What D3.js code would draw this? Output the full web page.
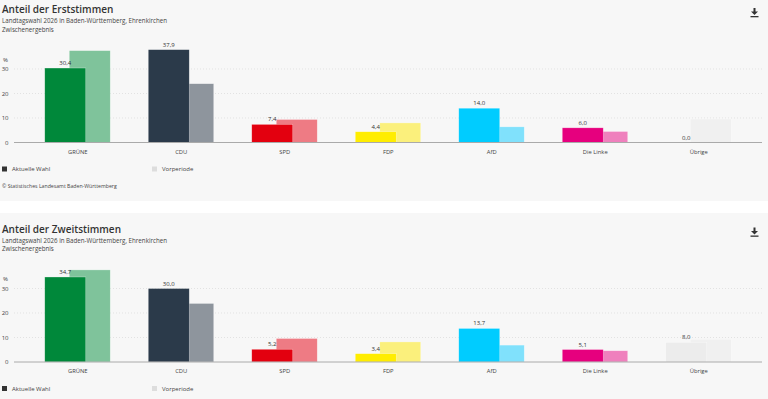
<!DOCTYPE html>
<html>
<head>
<meta charset="utf-8">
<script src="https://cdn.jsdelivr.net/npm/d3@7"></script>
<style>
  body { margin: 0; background: #fff; }
  svg { display: block; font-family: "Open Sans", sans-serif; }
</style>
</head>
<body>
<div id="chart"></div>
<script>
// Parteien und Ergebnisse
const parteien = ['GRÜNE', 'CDU', 'SPD', 'FDP', 'AfD', 'Die Linke', 'Übrige'];
const erstAktuell = [30.4, 37.9, 7.4, 4.4, 14.0, 6.0, 0.0];
const erstVorher = [37.5, 24.0, 9.4, 8.0, 6.4, 4.5, 9.6];
const zweitAktuell = [34.7, 30.0, 5.2, 3.4, 13.7, 5.1, 8.0];
const zweitVorher = [37.6, 23.9, 9.6, 8.2, 6.9, 4.6, 9.3];
const yTicks = [0, 10, 20, 30];

const farbeAktuell = ['#00883a', '#2b3a4a', '#e3000f', '#ffed00', '#00ccff', '#e6007e', '#ececec'];
const farbeVorher = ['#7fc39b', '#8e959d', '#ee7b84', '#fbf07c', '#80e1fc', '#ef80bd', '#f0f0f0'];

const width = 768, height = 399;
const svg = d3.select('#chart').append('svg')
  .attr('width', width).attr('height', height);

// Hintergründe der beiden Kacheln
svg.append('rect').attr('x', 0).attr('y', 0).attr('width', width).attr('height', 201).attr('fill', '#f7f7f7');
svg.append('rect').attr('x', 0).attr('y', 213).attr('width', width).attr('height', 186).attr('fill', '#f7f7f7');

const x = d3.scaleBand().domain(parteien).range([26, 750.5]);
const y = d3.scaleLinear().domain([0, 40]).range([142.5, 44.5]);
const fmt = v => d3.format('.1f')(v).replace('.', ',');

function panel(top, titel, aktuell, vorher, mitQuelle) {
  const g = svg.append('g').attr('transform', `translate(0,${top})`);

  g.append('text').attr('x', 2).attr('y', 13)
    .attr('font-size', 10).attr('font-weight', 600).attr('fill', '#333')
    .text(titel);
  g.append('text').attr('x', 2).attr('y', 23)
    .attr('font-size', 6.2).attr('fill', '#444')
    .text('Landtagswahl 2026 in Baden-Württemberg, Ehrenkirchen');
  g.append('text').attr('x', 2).attr('y', 31.5)
    .attr('font-size', 6.2).attr('fill', '#444')
    .text('Zwischenergebnis');

  // Download-Symbol
  const ic = g.append('g').attr('transform', 'translate(754.5,8)').attr('fill', '#333');
  ic.append('rect').attr('x', -1).attr('y', 0).attr('width', 2).attr('height', 4);
  ic.append('path').attr('d', 'M-3.5,3.5 L3.5,3.5 L0,7 Z');
  ic.append('rect').attr('x', -4).attr('y', 8).attr('width', 8).attr('height', 1.3);

  // Gitterlinien
  g.append('g').selectAll('line').data(yTicks.filter(d => d > 0)).join('line')
    .attr('x1', 14).attr('x2', 762)
    .attr('y1', d => y(d)).attr('y2', d => y(d))
    .attr('stroke', '#d8d8d8').attr('stroke-width', 0.7).attr('stroke-dasharray', '1,2');

  g.append('g').selectAll('text').data(yTicks).join('text')
    .attr('x', 8.5).attr('y', d => y(d) + 2.2)
    .attr('text-anchor', 'end').attr('font-size', 6).attr('fill', '#444')
    .text(d => d);
  g.append('text').attr('x', 3).attr('y', 61.5)
    .attr('font-size', 6).attr('fill', '#444').text('%');

  const bw = 41, off = 24.5;
  const mitte = d => x(d) + x.bandwidth() / 2;

  // Vorperiode (hinten)
  g.append('g').selectAll('rect').data(parteien).join('rect')
    .attr('x', d => mitte(d) - 33 + off)
    .attr('y', (d, i) => y(vorher[i]))
    .attr('width', bw)
    .attr('height', (d, i) => y(0) - y(vorher[i]))
    .attr('fill', (d, i) => farbeVorher[i])
    .attr('stroke', '#fff').attr('stroke-opacity', 0.5).attr('stroke-width', 0.6);

  // Aktuelle Wahl
  g.append('g').selectAll('rect').data(parteien).join('rect')
    .attr('x', d => mitte(d) - 33)
    .attr('y', (d, i) => y(aktuell[i]))
    .attr('width', bw)
    .attr('height', (d, i) => y(0) - y(aktuell[i]))
    .attr('fill', (d, i) => farbeAktuell[i])
    .attr('stroke', '#fff').attr('stroke-opacity', 0.5).attr('stroke-width', 0.6);

  g.append('g').selectAll('text').data(parteien).join('text')
    .attr('x', d => mitte(d) - 33 + bw / 2)
    .attr('y', (d, i) => y(aktuell[i]) - 3)
    .attr('text-anchor', 'middle').attr('font-size', 6).attr('fill', '#333')
    .text((d, i) => fmt(aktuell[i]));

  g.append('line').attr('x1', 14).attr('x2', 762)
    .attr('y1', y(0)).attr('y2', y(0))
    .attr('stroke', '#aaa').attr('stroke-width', 1);

  g.append('g').selectAll('text').data(parteien).join('text')
    .attr('x', d => mitte(d)).attr('y', 153.5)
    .attr('text-anchor', 'middle').attr('font-size', 5.8).attr('fill', '#444')
    .text(d => d);

  // Legende
  const leg = [['Aktuelle Wahl', '#333', 2], ['Vorperiode', '#ddd', 152]];
  leg.forEach(([t, c, lx]) => {
    g.append('rect').attr('x', lx).attr('y', 166.5).attr('width', 5).attr('height', 5).attr('fill', c);
    g.append('text').attr('x', lx + 10).attr('y', 171.2)
      .attr('font-size', 6).attr('fill', '#444').text(t);
  });

  if (mitQuelle) {
    g.append('text').attr('x', 2).attr('y', 188)
      .attr('font-size', 5.2).attr('fill', '#444')
      .text('© Statistisches Landesamt Baden-Württemberg');
  }
}

panel(0, 'Anteil der Erststimmen', erstAktuell, erstVorher, true);
panel(219.5, 'Anteil der Zweitstimmen', zweitAktuell, zweitVorher, false);
</script>
</body>
</html>
